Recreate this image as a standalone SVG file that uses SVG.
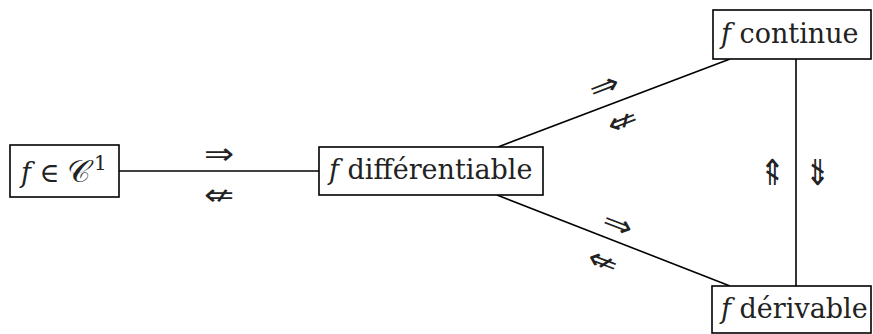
<svg xmlns="http://www.w3.org/2000/svg" width="873" height="334" viewBox="0 0 873 334">
<style>
.box{fill:#fff;stroke:#000;stroke-width:1.6}
.t{font-family:"DejaVu Serif","Liberation Serif",serif;font-size:27px;fill:#222}
.f{font-style:italic}
.e{fill:none;stroke:#000;stroke-width:1.6}
.s{font-family:"DejaVu Sans",sans-serif;font-size:30px;fill:#222;text-anchor:middle;dominant-baseline:central}
</style>
<rect width="873" height="334" fill="#fff"/>
<g id="connectors">
<line class="e" x1="119" y1="171" x2="319" y2="171"/>
<line class="e" x1="498" y1="147" x2="730" y2="59"/>
<line class="e" x1="497" y1="195" x2="730" y2="286"/>
<line class="e" x1="796" y1="59" x2="796" y2="286"/>
<text class="s" transform="translate(219,154) scale(1.2,1)">⇒</text>
<text class="s" transform="translate(219,195) scale(1.2,1)">⇍</text>
<text class="s" transform="translate(604,86) rotate(-21) scale(1.2,1)">⇒</text>
<text class="s" transform="translate(622,121) rotate(-21) scale(1.2,1)">⇍</text>
<text class="s" transform="translate(618,224) rotate(21) scale(1.2,1)">⇒</text>
<text class="s" transform="translate(603,261) rotate(21) scale(1.2,1)">⇍</text>
<text class="s" transform="translate(773,172) rotate(90) scale(1.2,1)">⇍</text>
<text class="s" transform="translate(817,172) rotate(-90) scale(1.2,1)">⇍</text>
</g>
<g id="n1">
<rect class="box" x="10" y="145" width="109" height="52"/>
<text class="t" x="21" y="182"><tspan class="f">f</tspan> ∈ <tspan font-family="Noto Sans Math,DejaVu Sans,serif" font-size="31">𝒞</tspan><tspan font-size="20" dy="-12">1</tspan></text>
</g>
<g id="n2">
<rect class="box" x="319" y="147" width="224" height="48"/>
<text class="t" x="329" y="179"><tspan class="f">f</tspan> différentiable</text>
</g>
<g id="n3">
<rect class="box" x="713" y="10" width="158" height="49"/>
<text class="t" x="721" y="43"><tspan class="f">f</tspan> continue</text>
</g>
<g id="n4">
<rect class="box" x="712" y="286" width="159" height="47"/>
<text class="t" x="721" y="318"><tspan class="f">f</tspan> dérivable</text>
</g>
</svg>
